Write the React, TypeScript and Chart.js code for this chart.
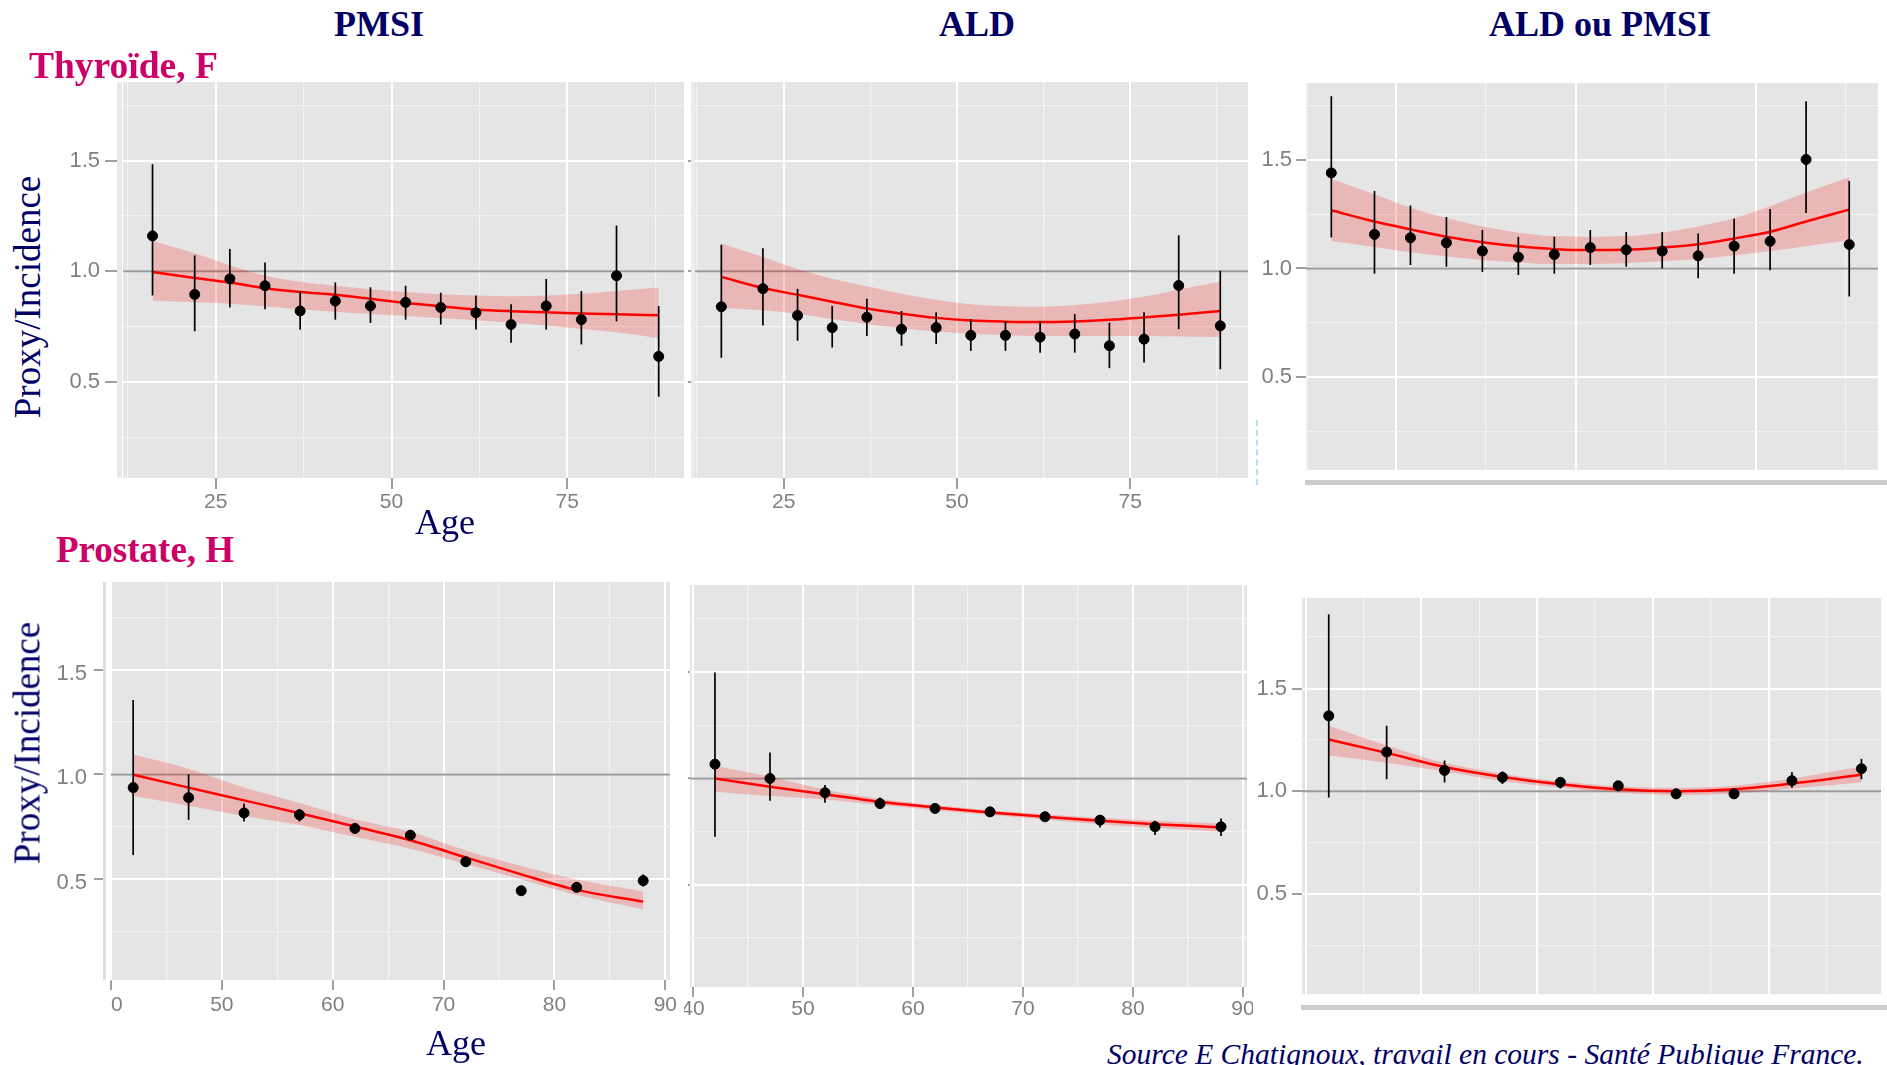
import React, { useEffect, useRef } from 'react';
import { Chart, registerables } from 'chart.js';

Chart.register(...registerables);

// ---------------- data ----------------
const thyroidAges = [16, 22, 27, 32, 37, 42, 47, 52, 57, 62, 67, 72, 77, 82, 88];
const prostateAges = [42, 47, 52, 57, 62, 67, 72, 77, 82, 88];

const yTickValues = [0.25, 0.5, 0.75, 1, 1.25, 1.5, 1.75];
const thyroidXTickValues = [12.5, 25, 37.5, 50, 62.5, 75, 87.5];
const prostateXTickValues = [40, 45, 50, 55, 60, 65, 70, 75, 80, 85, 90];

// Thyroïde, F — PMSI
const thyroPmsiEst = [1.16, 0.896, 0.966, 0.935, 0.821, 0.866, 0.844, 0.86, 0.837, 0.813, 0.76, 0.844, 0.782, 0.98, 0.616];
const thyroPmsiLow = [0.891, 0.729, 0.837, 0.829, 0.737, 0.782, 0.767, 0.782, 0.76, 0.737, 0.678, 0.737, 0.67, 0.774, 0.434];
const thyroPmsiHigh = [1.484, 1.072, 1.101, 1.04, 0.911, 0.95, 0.928, 0.935, 0.904, 0.891, 0.851, 0.966, 0.911, 1.207, 0.843];
const thyroPmsiFit = [0.997, 0.97, 0.95, 0.924, 0.907, 0.894, 0.876, 0.857, 0.843, 0.828, 0.82, 0.815, 0.81, 0.806, 0.802];
const thyroPmsiUpper = [1.137, 1.082, 1.028, 0.981, 0.953, 0.935, 0.919, 0.907, 0.897, 0.891, 0.888, 0.891, 0.899, 0.911, 0.927];
const thyroPmsiLower = [0.869, 0.86, 0.854, 0.841, 0.829, 0.818, 0.807, 0.798, 0.788, 0.779, 0.768, 0.756, 0.74, 0.725, 0.698];

// Thyroïde, F — ALD
const thyroAldEst = [0.84, 0.922, 0.801, 0.746, 0.793, 0.739, 0.746, 0.711, 0.711, 0.703, 0.717, 0.664, 0.694, 0.936, 0.754];
const thyroAldLow = [0.61, 0.756, 0.687, 0.656, 0.708, 0.664, 0.672, 0.641, 0.641, 0.633, 0.633, 0.563, 0.588, 0.739, 0.558];
const thyroAldHigh = [1.12, 1.104, 0.921, 0.844, 0.876, 0.821, 0.815, 0.784, 0.776, 0.776, 0.807, 0.768, 0.815, 1.163, 1.003];
const thyroAldFit = [0.975, 0.925, 0.894, 0.863, 0.832, 0.809, 0.79, 0.778, 0.773, 0.771, 0.774, 0.781, 0.792, 0.804, 0.821];
const thyroAldUpper = [1.126, 1.065, 1.011, 0.967, 0.933, 0.899, 0.871, 0.852, 0.843, 0.84, 0.848, 0.863, 0.886, 0.918, 0.953];
const thyroAldLower = [0.835, 0.824, 0.809, 0.785, 0.762, 0.743, 0.728, 0.718, 0.712, 0.708, 0.708, 0.708, 0.708, 0.706, 0.703];

// Thyroïde, F — ALD ou PMSI
const thyroBothEst = [1.44, 1.157, 1.141, 1.118, 1.08, 1.052, 1.064, 1.096, 1.086, 1.08, 1.058, 1.103, 1.125, 1.502, 1.11];
const thyroBothLow = [1.143, 0.976, 1.016, 1.008, 0.984, 0.97, 0.976, 1.016, 1.008, 1.0, 0.955, 0.976, 0.992, 1.255, 0.871];
const thyroBothHigh = [1.793, 1.357, 1.29, 1.237, 1.177, 1.146, 1.146, 1.177, 1.168, 1.168, 1.161, 1.229, 1.274, 1.77, 1.403];
const thyroBothFit = [1.268, 1.216, 1.18, 1.146, 1.121, 1.102, 1.089, 1.085, 1.086, 1.096, 1.111, 1.138, 1.169, 1.216, 1.271];
const thyroBothUpper = [1.412, 1.342, 1.279, 1.232, 1.193, 1.165, 1.149, 1.146, 1.149, 1.165, 1.193, 1.232, 1.287, 1.35, 1.42];
const thyroBothLower = [1.127, 1.099, 1.075, 1.055, 1.039, 1.028, 1.02, 1.02, 1.024, 1.033, 1.044, 1.06, 1.08, 1.102, 1.13];

// Prostate, H — PMSI
const prostPmsiEst = [0.937, 0.889, 0.816, 0.807, 0.742, 0.71, 0.583, 0.445, 0.461, 0.493];
const prostPmsiLow = [0.615, 0.783, 0.775, 0.775, 0.726, 0.694, 0.567, 0.432, 0.448, 0.465];
const prostPmsiHigh = [1.355, 1.0, 0.861, 0.835, 0.758, 0.726, 0.599, 0.458, 0.474, 0.523];
const prostPmsiFit = [0.998, 0.937, 0.876, 0.815, 0.751, 0.686, 0.604, 0.523, 0.449, 0.393];
const prostPmsiUpper = [1.095, 1.027, 0.937, 0.864, 0.786, 0.726, 0.637, 0.563, 0.498, 0.441];
const prostPmsiLower = [0.897, 0.851, 0.802, 0.759, 0.702, 0.645, 0.572, 0.498, 0.425, 0.357];

// Prostate, H — ALD
const prostAldEst = [1.067, 1.0, 0.933, 0.882, 0.859, 0.843, 0.82, 0.804, 0.773, 0.773];
const prostAldLow = [0.726, 0.895, 0.886, 0.859, 0.843, 0.828, 0.801, 0.77, 0.734, 0.729];
const prostAldHigh = [1.498, 1.122, 0.969, 0.911, 0.875, 0.859, 0.839, 0.828, 0.801, 0.812];
const prostAldFit = [1.0, 0.961, 0.926, 0.89, 0.864, 0.84, 0.82, 0.801, 0.785, 0.77];
const prostAldUpper = [1.06, 1.008, 0.948, 0.904, 0.875, 0.851, 0.832, 0.815, 0.801, 0.788];
const prostAldLower = [0.937, 0.917, 0.901, 0.875, 0.851, 0.828, 0.807, 0.785, 0.768, 0.749];

// Prostate, H — ALD ou PMSI
const prostBothEst = [1.367, 1.191, 1.102, 1.068, 1.044, 1.027, 0.988, 0.988, 1.052, 1.11];
const prostBothLow = [0.97, 1.059, 1.043, 1.036, 1.014, 1.006, 0.972, 0.969, 1.017, 1.059];
const prostBothHigh = [1.861, 1.319, 1.15, 1.097, 1.065, 1.043, 1.001, 1.004, 1.094, 1.158];
const prostBothFit = [1.252, 1.187, 1.118, 1.07, 1.035, 1.01, 1.001, 1.01, 1.038, 1.081];
const prostBothUpper = [1.319, 1.223, 1.139, 1.086, 1.049, 1.025, 1.017, 1.027, 1.062, 1.121];
const prostBothLower = [1.174, 1.139, 1.097, 1.051, 1.017, 0.994, 0.982, 0.99, 1.014, 1.043];

// ---------------- styling ----------------
const NAVY = '#000066';
const CRIMSON = '#cc0066';
const PANEL_BG = '#e5e5e5';
const TICK_FONT = "'Liberation Sans', Arial, sans-serif";
const SERIF = "'Liberation Serif', 'Times New Roman', serif";

interface PanelSpec {
  key: string;
  box: [number, number, number, number];
  area: [number, number, number, number];
  x: [number, number];
  y: [number, number];
  xTicks: number[];
  xMajor: number;
  showXLabels: boolean;
  xTickLen: number;
  xPad: number;
  showYLabels: boolean;
  yTickLen: number;
  yPad: number;
  yLabelOffset: number;
  strip?: [number, number, string];
  ages: number[];
  est: number[];
  low: number[];
  high: number[];
  fit: number[];
  upper: number[];
  lower: number[];
}

const panels: PanelSpec[] = [
  {
    key: 'thyro-pmsi', box: [50, 70, 690, 525], area: [123, 82, 688, 478],
    x: [11.8, 91.6], y: [0.067, 1.855], xTicks: thyroidXTickValues, xMajor: 25,
    showXLabels: true, xTickLen: 11, xPad: 1, showYLabels: true, yTickLen: 18, yPad: 5, yLabelOffset: 0,
    strip: [6, 5, '#e9e9e9'],
    ages: thyroidAges, est: thyroPmsiEst, low: thyroPmsiLow, high: thyroPmsiHigh,
    fit: thyroPmsiFit, upper: thyroPmsiUpper, lower: thyroPmsiLower,
  },
  {
    key: 'thyro-ald', box: [686, 70, 1254, 525], area: [695, 82, 1252, 478],
    x: [12.2, 92.0], y: [0.067, 1.855], xTicks: thyroidXTickValues, xMajor: 25,
    showXLabels: true, xTickLen: 11, xPad: 1, showYLabels: false, yTickLen: 7, yPad: 2, yLabelOffset: 0,
    strip: [4, 4, '#ececec'],
    ages: thyroidAges, est: thyroAldEst, low: thyroAldLow, high: thyroAldHigh,
    fit: thyroAldFit, upper: thyroAldUpper, lower: thyroAldLower,
  },
  {
    key: 'thyro-both', box: [1256, 70, 1887, 476], area: [1306, 83, 1878, 473],
    x: [12.48, 92.0], y: [0.072, 1.854], xTicks: thyroidXTickValues, xMajor: 25,
    showXLabels: false, xTickLen: 0, xPad: 0, showYLabels: true, yTickLen: 10, yPad: 4, yLabelOffset: 0,
    ages: thyroidAges, est: thyroBothEst, low: thyroBothLow, high: thyroBothHigh,
    fit: thyroBothFit, upper: thyroBothUpper, lower: thyroBothLower,
  },
  {
    key: 'prost-pmsi', box: [40, 570, 676, 1025], area: [111, 582, 672, 980],
    x: [40.0, 90.42], y: [0.019, 1.918], xTicks: prostateXTickValues, xMajor: 10,
    showXLabels: true, xTickLen: 10, xPad: 3, showYLabels: true, yTickLen: 17, yPad: 7, yLabelOffset: 4,
    strip: [8, 3, '#dedede'],
    ages: prostateAges, est: prostPmsiEst, low: prostPmsiLow, high: prostPmsiHigh,
    fit: prostPmsiFit, upper: prostPmsiUpper, lower: prostPmsiLower,
  },
  {
    key: 'prost-ald', box: [684, 573, 1253, 1030], area: [686, 585, 1252, 987],
    x: [39.73, 90.36], y: [0.02, 1.909], xTicks: prostateXTickValues, xMajor: 10,
    showXLabels: true, xTickLen: 10, xPad: 0, showYLabels: false, yTickLen: 2, yPad: 0, yLabelOffset: 0,
    ages: prostateAges, est: prostAldEst, low: prostAldLow, high: prostAldHigh,
    fit: prostAldFit, upper: prostAldUpper, lower: prostAldLower,
  },
  {
    key: 'prost-both', box: [1256, 585, 1887, 1000], area: [1302, 598, 1884, 997],
    x: [39.69, 89.69], y: [0.015, 1.94], xTicks: prostateXTickValues, xMajor: 10,
    showXLabels: false, xTickLen: 0, xPad: 0, showYLabels: true, yTickLen: 10, yPad: 5, yLabelOffset: 0,
    ages: prostateAges, est: prostBothEst, low: prostBothLow, high: prostBothHigh,
    fit: prostBothFit, upper: prostBothUpper, lower: prostBothLower,
  },
];

function makeConfig(p: PanelSpec): any {
  const [cl, ct, cr, cb] = p.box;
  const [al, at, ar, ab] = p.area;
  const isYMajor = (v: number) => Math.abs(v * 2 - Math.round(v * 2)) < 1e-6;
  const isXMajor = (v: number) => Math.abs(v / p.xMajor - Math.round(v / p.xMajor)) < 1e-6;
  const pts = (vals: number[]) => p.ages.map((a, i) => ({ x: a, y: vals[i] }));

  const deco = {
    id: 'panelDeco',
    beforeDraw(chart: any) {
      const { ctx, chartArea: a } = chart;
      ctx.save();
      ctx.fillStyle = PANEL_BG;
      ctx.fillRect(a.left, a.top, a.right - a.left, a.bottom - a.top);
      ctx.restore();
    },
    beforeDatasetsDraw(chart: any) {
      const { ctx, chartArea: a, scales } = chart;
      ctx.save();
      if (p.strip) {
        const [off, w, col] = p.strip;
        ctx.clearRect(a.left - off, a.top - 1, off, a.bottom - a.top + 2);
        ctx.fillStyle = col;
        ctx.fillRect(a.left - off, a.top, w, a.bottom - a.top);
      }
      const y1 = scales.y.getPixelForValue(1);
      ctx.strokeStyle = '#9a9a9a';
      ctx.lineWidth = 2;
      ctx.beginPath();
      ctx.moveTo(a.left, y1);
      ctx.lineTo(a.right, y1);
      ctx.stroke();
      ctx.restore();
    },
    afterDatasetsDraw(chart: any) {
      const { ctx, scales } = chart;
      ctx.save();
      ctx.strokeStyle = '#000000';
      ctx.lineWidth = 1.7;
      p.ages.forEach((a, i) => {
        const x = scales.x.getPixelForValue(a);
        ctx.beginPath();
        ctx.moveTo(x, scales.y.getPixelForValue(p.low[i]));
        ctx.lineTo(x, scales.y.getPixelForValue(p.high[i]));
        ctx.stroke();
      });
      ctx.restore();
    },
  };

  return {
    type: 'scatter',
    data: {
      datasets: [
        {
          label: 'Proxy/Incidence',
          data: pts(p.est),
          showLine: false,
          pointRadius: 5,
          pointBackgroundColor: '#000000',
          pointBorderColor: '#000000',
          pointBorderWidth: 1,
          order: 0,
        },
        {
          label: 'ajustement',
          type: 'line',
          data: pts(p.fit),
          borderColor: '#ff0000',
          borderWidth: 2.5,
          pointRadius: 0,
          fill: false,
          cubicInterpolationMode: 'monotone',
          order: 1,
        },
        {
          label: 'IC haut',
          type: 'line',
          data: pts(p.upper),
          borderColor: 'rgba(0,0,0,0)',
          borderWidth: 0,
          pointRadius: 0,
          backgroundColor: 'rgba(255,0,0,0.2)',
          fill: '+1',
          cubicInterpolationMode: 'monotone',
          order: 2,
        },
        {
          label: 'IC bas',
          type: 'line',
          data: pts(p.lower),
          borderColor: 'rgba(0,0,0,0)',
          borderWidth: 0,
          pointRadius: 0,
          fill: false,
          cubicInterpolationMode: 'monotone',
          order: 3,
        },
      ],
    },
    options: {
      responsive: false,
      maintainAspectRatio: false,
      animation: false,
      events: [],
      layout: { padding: { left: 0, top: at - ct, right: cr - ar, bottom: 0 } },
      plugins: {
        legend: { display: false },
        tooltip: { enabled: false },
        title: { display: false },
      },
      scales: {
        x: {
          type: 'linear',
          bounds: 'data',
          min: p.x[0],
          max: p.x[1],
          afterBuildTicks: (s: any) => {
            s.ticks = p.xTicks.map((v) => ({ value: v }));
          },
          afterFit: (s: any) => {
            s.height = cb - ab;
            s.paddingLeft = 0;
            s.paddingRight = 0;
            s.paddingTop = 0;
            s.paddingBottom = 0;
          },
          border: { display: false },
          grid: {
            color: (c: any) => (c.tick && isXMajor(c.tick.value) ? '#ffffff' : '#f3f3f3'),
            lineWidth: (c: any) => (c.tick && isXMajor(c.tick.value) ? 2 : 1.2),
            drawTicks: p.xTickLen > 0,
            tickLength: p.xTickLen,
            tickWidth: 1.5,
            tickColor: (c: any) => (c.tick && isXMajor(c.tick.value) ? '#7f7f7f' : 'rgba(0,0,0,0)'),
          },
          ticks: {
            display: p.showXLabels,
            autoSkip: false,
            maxRotation: 0,
            minRotation: 0,
            padding: p.xPad,
            color: '#808080',
            font: { family: TICK_FONT, size: 21 },
            callback: (v: any) => (isXMajor(Number(v)) ? String(v) : ''),
          },
        },
        y: {
          type: 'linear',
          position: 'left',
          bounds: 'data',
          min: p.y[0],
          max: p.y[1],
          afterBuildTicks: (s: any) => {
            s.ticks = yTickValues.map((v) => ({ value: v }));
          },
          afterFit: (s: any) => {
            s.width = al - cl;
            s.paddingLeft = 0;
            s.paddingRight = 0;
            s.paddingTop = 0;
            s.paddingBottom = 0;
          },
          border: { display: false },
          grid: {
            color: (c: any) => (c.tick && isYMajor(c.tick.value) ? '#ffffff' : '#f3f3f3'),
            lineWidth: (c: any) => (c.tick && isYMajor(c.tick.value) ? 2 : 1.2),
            drawTicks: p.yTickLen > 0,
            tickLength: p.yTickLen,
            tickWidth: 1.5,
            tickColor: (c: any) => (c.tick && isYMajor(c.tick.value) ? '#7f7f7f' : 'rgba(0,0,0,0)'),
          },
          ticks: {
            display: p.showYLabels,
            autoSkip: false,
            padding: p.yPad,
            labelOffset: p.yLabelOffset,
            color: '#808080',
            font: { family: TICK_FONT, size: 22 },
            callback: (v: any) => (isYMajor(Number(v)) ? Number(v).toFixed(1) : ''),
          },
        },
      },
    },
    plugins: [deco],
  };
}

function Panel({ spec }: { spec: PanelSpec }) {
  const ref = useRef<HTMLCanvasElement | null>(null);
  useEffect(() => {
    if (!ref.current) return;
    const chart = new Chart(ref.current, makeConfig(spec));
    return () => chart.destroy();
  }, [spec]);
  const [cl, ct, cr, cb] = spec.box;
  return (
    <canvas
      ref={ref}
      width={cr - cl}
      height={cb - ct}
      style={{ position: 'absolute', left: cl, top: ct, width: cr - cl, height: cb - ct }}
    />
  );
}

function Text({
  x, y, children, size, color = NAVY, bold = false, italic = false, align = 'center', rotate = false,
}: {
  x: number; y: number; children: React.ReactNode; size: number; color?: string;
  bold?: boolean; italic?: boolean; align?: 'center' | 'left'; rotate?: boolean;
}) {
  const tx = align === 'center' ? '-50%' : '0';
  return (
    <div
      style={{
        position: 'absolute',
        left: x,
        top: y,
        transform: `translate(${tx}, -50%)${rotate ? ' rotate(-90deg)' : ''}`,
        fontFamily: SERIF,
        fontSize: size,
        fontWeight: bold ? 700 : 400,
        fontStyle: italic ? 'italic' : 'normal',
        color,
        lineHeight: 1,
        whiteSpace: 'nowrap',
      }}
    >
      {children}
    </div>
  );
}

export default function App() {
  return (
    <div
      style={{
        position: 'fixed', left: 0, top: 0, width: 1887, height: 1065,
        overflow: 'hidden', background: '#ffffff',
      }}
    >
      {panels.map((p) => (
        <Panel key={p.key} spec={p} />
      ))}
      {/* crop of the "4" of the first prostate tick label */}
      <div style={{ position: 'absolute', left: 92, top: 992, width: 18.5, height: 28, background: '#ffffff' }} />
      {/* x axis bars of the right column */}
      <div style={{ position: 'absolute', left: 1305, top: 480, width: 582, height: 5, background: '#cccccc' }} />
      <div style={{ position: 'absolute', left: 1301, top: 1005, width: 586, height: 5, background: '#cccccc' }} />
      <div style={{ position: 'absolute', left: 1256, top: 420, width: 0, height: 65, borderLeft: '2px dashed #b5e0f2' }} />

      <Text x={379} y={24} size={36} bold>PMSI</Text>
      <Text x={977} y={24} size={36} bold>ALD</Text>
      <Text x={1600} y={24} size={36} bold>ALD ou PMSI</Text>
      <Text x={29} y={66} size={37.5} bold color={CRIMSON} align="left">Thyroïde, F</Text>
      <Text x={56} y={549} size={37} bold color={CRIMSON} align="left">Prostate, H</Text>
      <Text x={27} y={297} size={37} rotate>Proxy/Incidence</Text>
      <Text x={27} y={743} size={37} rotate>Proxy/Incidence</Text>
      <Text x={445} y={522} size={36}>Age</Text>
      <Text x={456} y={1043} size={36}>Age</Text>
      <div
        style={{
          position: 'absolute', left: 1107, top: 1040, fontFamily: SERIF, fontStyle: 'italic',
          fontSize: 29.5, color: NAVY, lineHeight: 1, whiteSpace: 'nowrap',
        }}
      >
        Source E Chatignoux, travail en cours - Santé Publique France.
      </div>
    </div>
  );
}
